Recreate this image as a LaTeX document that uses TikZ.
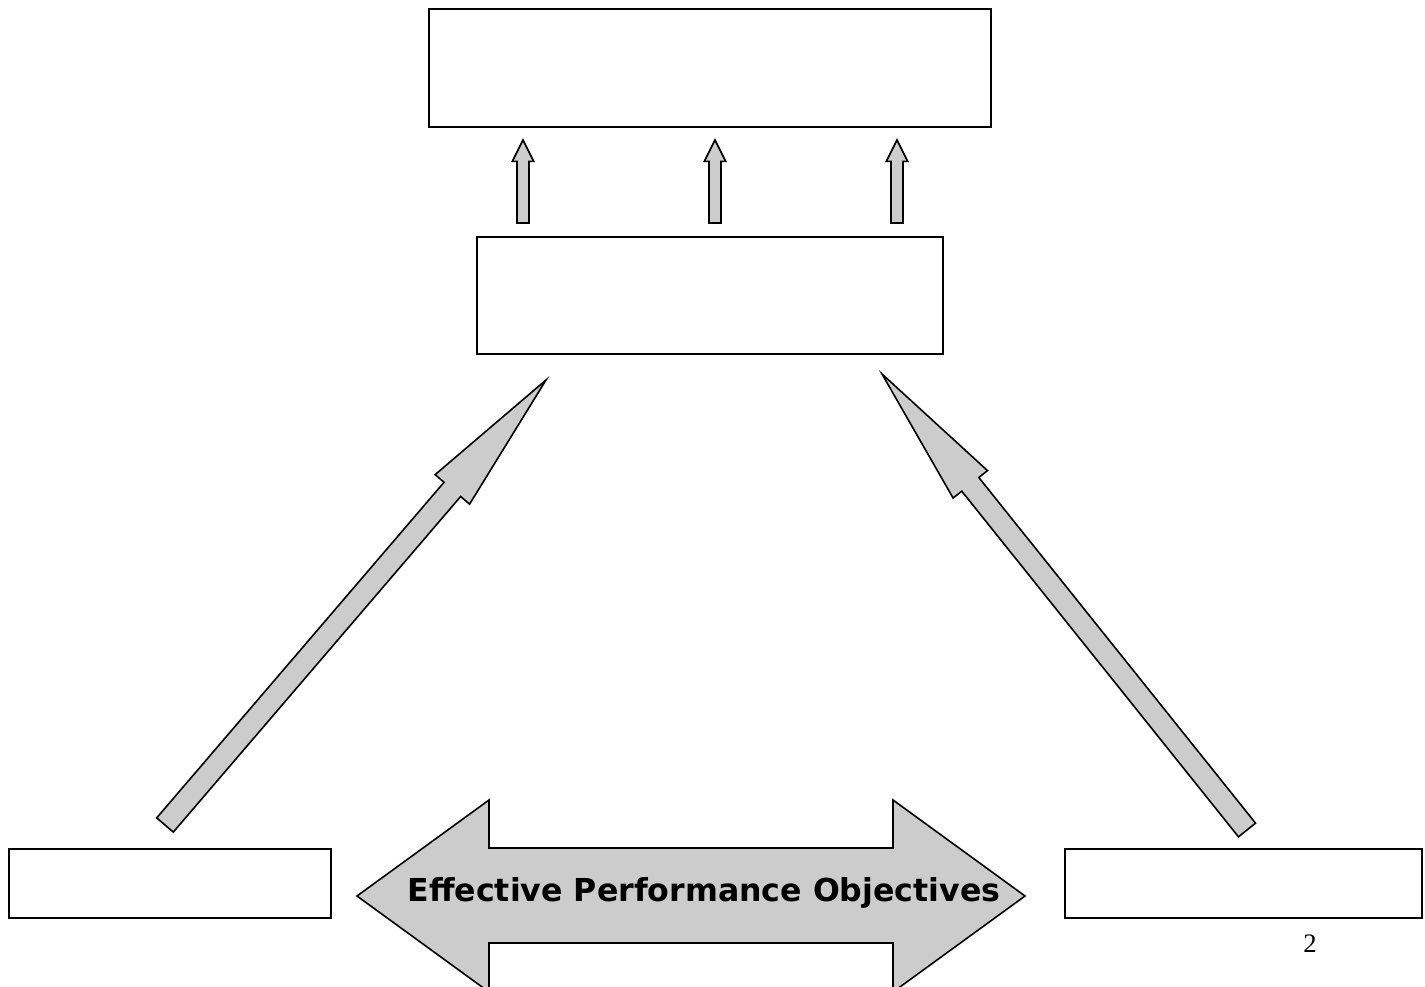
\documentclass[tikz,border=0pt]{standalone}
\usepackage{fontspec}
\usepackage{tikz}
\usetikzlibrary{calc}
\newfontfamily\arrowfont{DejaVu Sans}
\newfontfamily\pagefont{Liberation Serif}
\definecolor{arrowgray}{RGB}{204,204,204}

% block arrow: name, tail, tip, shaft half width, head half width, head length
\newcommand{\fatarrow}[6]{%
  \coordinate (#1-h) at ($(#3)!#6!(#2)$);
  \draw[arrowshape] ($(#2)!#4!90:(#3)$) -- ($(#1-h)!#4!90:(#3)$) -- ($(#1-h)!#5!90:(#3)$) -- (#3)
    -- ($(#1-h)!#5!-90:(#3)$) -- ($(#1-h)!#4!-90:(#3)$) -- ($(#2)!#4!-90:(#3)$) -- cycle;
}

\begin{document}
\begin{tikzpicture}[x=0.75pt,y=0.75pt,yscale=-1,xscale=1,
  box/.style={draw, line width=1.2pt, inner sep=0pt, outer sep=0pt},
  arrowshape/.style={draw, fill=arrowgray, line width=1.2pt, line join=miter}]
\useasboundingbox (0,0) rectangle (1425,986);

%Shape: Rectangle [top]
\node[box, minimum width=421.5pt, minimum height=88.5pt] (topbox) at (710,68) {};
%Shape: Rectangle [middle]
\node[box, minimum width=349.5pt, minimum height=87.75pt] (midbox) at (710,295.5) {};
%Shape: Rectangle [bottom left]
\node[box, minimum width=241.5pt, minimum height=51.75pt] (leftbox) at (170,883.5) {};
%Shape: Rectangle [bottom right]
\node[box, minimum width=267.75pt, minimum height=51.75pt] (rightbox) at (1243.5,883.5) {};

%Small up arrows between middle and top box
\foreach \i/\xpos in {1/523,2/715,3/897}{
  \coordinate (up\i-tail) at (\xpos,223);
  \coordinate (up\i-tip) at (\xpos,140);
  \fatarrow{up\i}{up\i-tail}{up\i-tip}{4.5pt}{8pt}{16pt}
}

%Big arrow from bottom left
\coordinate (la-tail) at (165,825);
\coordinate (la-tip) at (546,380);
\fatarrow{la}{la-tail}{la-tip}{8.2pt}{17pt}{108pt}

%Big arrow from bottom right
\coordinate (ra-tail) at (1247,830);
\coordinate (ra-tip) at (882,374);
\fatarrow{ra}{ra-tail}{ra-tip}{8.2pt}{16.5pt}{106pt}

%Shape: Double arrow
\draw[arrowshape] (357,896) -- (489,800) -- (489,848) -- (893,848) -- (893,800) -- (1025,896)
  -- (893,992) -- (893,943) -- (489,943) -- (489,992) -- cycle;

% Text Node
\node[font=\arrowfont\bfseries\fontsize{23.7}{28}\selectfont, inner sep=0.75pt] (objectives) at (704,893) {Effective Performance Objectives};
% Text Node
\node[font=\pagefont\fontsize{20}{24}\selectfont, inner sep=0.75pt] (pagenum) at (1310,944) {2};

\end{tikzpicture}
\end{document}
